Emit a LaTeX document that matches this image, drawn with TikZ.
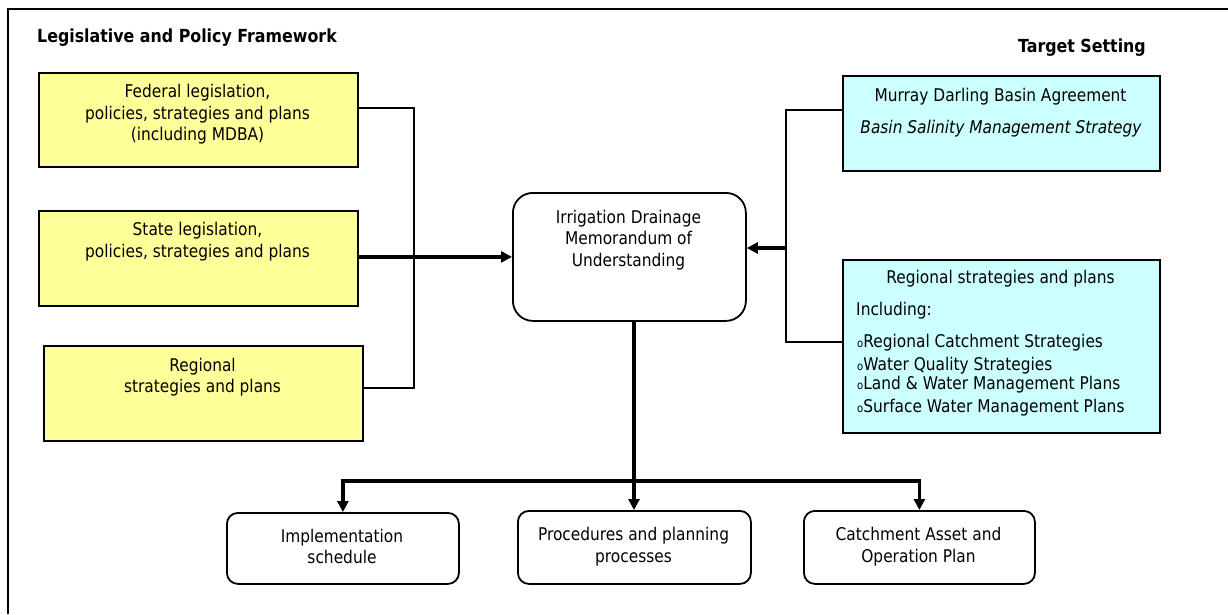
\documentclass[tikz,border=0pt]{standalone}
\usepackage{fontspec}
\setmainfont{DejaVu Sans}[FakeStretch=0.88]
\usetikzlibrary{arrows.meta}
\definecolor{ylw}{HTML}{FFFF99}
\definecolor{cyn}{HTML}{CCFFFF}
\begin{document}
\begin{tikzpicture}[x=1pt,y=-1pt,
  box/.style={draw=black, line width=1.8pt, inner sep=0pt, anchor=north west},
  ybox/.style={box, fill=ylw},
  cbox/.style={box, fill=cyn},
  rbox/.style={box, rounded corners=#1},
  txt/.style={align=center, inner sep=0pt, font=\fontsize{17.5}{21.5}\selectfont},
  ltxt/.style={anchor=west, inner sep=0pt, font=\fontsize{17.5}{21.5}\selectfont},
  ttl/.style={inner sep=0pt, font=\fontsize{18}{21.5}\selectfont\bfseries},
  conn/.style={line width=1.8pt},
  arr/.style={line width=3.2pt, -{Triangle[length=11pt,width=11pt]}}
]
\useasboundingbox (0,0) rectangle (1228,614);
% frame
\draw[line width=1.6pt] (8,614) -- (8,9) -- (1228,9);
% titles
\node[ttl, anchor=base west] (t1) at (37,42) {Legislative and Policy Framework};
\node[ttl, anchor=base east] (t2) at (1146,52) {Target Setting};
% yellow boxes
\node[ybox, minimum width=319pt, minimum height=94pt] (fed) at (38,72) {};
\node[txt] (fedt) at (197.5,114.5) {Federal legislation,\\policies, strategies and plans\\(including MDBA)};
\node[ybox, minimum width=319pt, minimum height=95pt] (state) at (38,210) {};
\node[txt] (statet) at (197.5,241.5) {State legislation,\\policies, strategies and plans};
\node[ybox, minimum width=319pt, minimum height=95pt] (reg) at (43,345) {};
\node[txt] (regt) at (202.5,377) {Regional\\strategies and plans};
% central
\node[rbox=20pt, minimum width=233pt, minimum height=128pt] (idm) at (512,192) {};
\node[txt] (idmt) at (628.5,240) {Irrigation Drainage\\Memorandum of\\Understanding};
% cyan boxes
\node[cbox, minimum width=317pt, minimum height=95pt] (mdb) at (842,75) {};
\node[txt] (mdbt1) at (1000.5,96.5) {Murray Darling Basin Agreement};
\node[txt] (mdbt2) at (1001,128.5) {\itshape Basin Salinity Management Strategy};
\node[cbox, minimum width=317pt, minimum height=173pt] (rsp) at (842,259) {};
\node[txt] (rspt) at (1000.5,278.5) {Regional strategies and plans};
\node[ltxt] (inc) at (856,310.5) {Including:};
\newcommand{\smallo}{{\fontsize{11.5}{11.5}\selectfont o}}
\node[ltxt] (b1) at (857,342.5) {\smallo Regional Catchment Strategies};
\node[ltxt] (b2) at (857,365.5) {\smallo Water Quality Strategies};
\node[ltxt] (b3) at (857,384.5) {\smallo Land \& Water Management Plans};
\node[ltxt] (b4) at (857,407.5) {\smallo Surface Water Management Plans};
% bottom boxes
\node[rbox=11pt, minimum width=232pt, minimum height=71pt] (impl) at (226,512) {};
\node[txt] (implt) at (342,546.5) {Implementation\\schedule};
\node[rbox=11pt, minimum width=233pt, minimum height=73pt] (proc) at (517,510) {};
\node[txt] (proct) at (633.5,546.5) {Procedures and planning\\processes};
\node[rbox=11pt, minimum width=231pt, minimum height=73pt] (catch) at (803,510) {};
\node[txt] (catcht) at (918.5,546.5) {Catchment Asset and\\Operation Plan};
% left bracket
\coordinate (lbt) at (414,108);
\coordinate (lbb) at (414,388);
\draw[conn] (fed.east |- lbt) -- (lbt) -- (lbb) -- (reg.east |- lbb);
% state arrow
\draw[arr] (state.east |- idm.west) -- (idm.west);
% right bracket
\coordinate (rbt) at (786,110);
\coordinate (rbb) at (786,342);
\coordinate (rba) at (786,248);
\draw[conn] (mdb.west |- rbt) -- (rbt) -- (rbb) -- (rsp.west |- rbb);
\draw[arr] (rba) -- (idm.east |- rba);
% down
\coordinate (bus) at (634,481);
\draw[arr] (idm.south -| bus) -- (proc.north -| bus);
\draw[arr] (bus) -| (impl.north);
\draw[arr] (bus) -| (catch.north);
\end{tikzpicture}
\end{document}
